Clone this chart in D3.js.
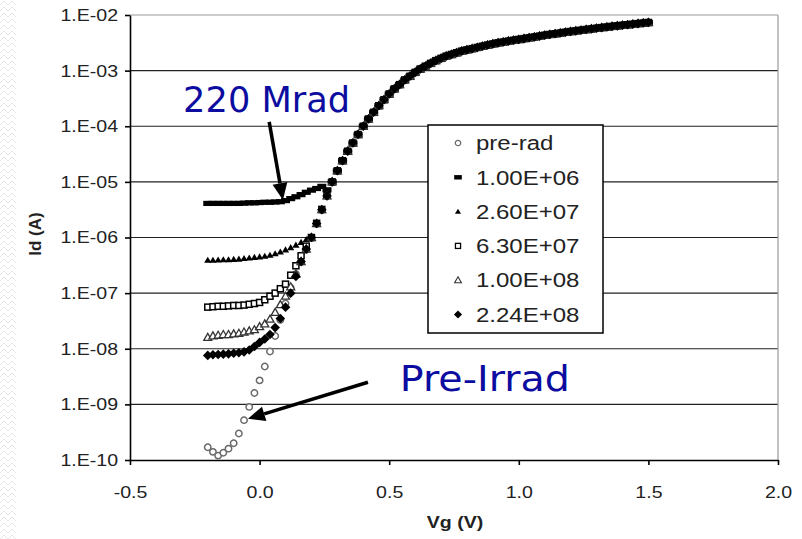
<!DOCTYPE html>
<html>
<head>
<meta charset="utf-8">
<script src="https://cdn.jsdelivr.net/npm/d3@7"></script>
<style>
  body { margin: 0; background: #fff; }
  svg { display: block; }
</style>
</head>
<body>
<div id="chart"></div>
<script>
// Vg steps (V) for the low part, where the series differ
const vgLow = [-0.20, -0.18, -0.16, -0.14, -0.12, -0.10, -0.08, -0.06, -0.04, -0.02,
  0.00, 0.02, 0.04, 0.06, 0.08, 0.10, 0.12, 0.14, 0.16, 0.18, 0.20, 0.22, 0.24, 0.26, 0.28];

// Vg steps for the upper part, where every series sits on the same curve
const vgHigh = [0.30, 0.32, 0.34, 0.36, 0.38, 0.40, 0.42, 0.44, 0.46, 0.48,
  0.50, 0.52, 0.54, 0.56, 0.58, 0.60, 0.62, 0.64, 0.66, 0.68,
  0.70, 0.72, 0.74, 0.76, 0.78, 0.80, 0.82, 0.84, 0.86, 0.88,
  0.90, 0.92, 0.94, 0.96, 0.98, 1.00, 1.02, 1.04, 1.06, 1.08,
  1.10, 1.12, 1.14, 1.16, 1.18, 1.20, 1.22, 1.24, 1.26, 1.28,
  1.30, 1.32, 1.34, 1.36, 1.38, 1.40, 1.42, 1.44, 1.46, 1.48, 1.50];

const idHigh = [1.58e-5, 2.4e-5, 3.55e-5, 5.0e-5, 7.1e-5, 1.0e-4, 1.35e-4, 1.78e-4, 2.34e-4, 3.0e-4,
  3.8e-4, 4.7e-4, 5.6e-4, 6.8e-4, 7.9e-4, 9.3e-4, 1.07e-3, 1.2e-3, 1.35e-3, 1.51e-3,
  1.66e-3, 1.82e-3, 1.95e-3, 2.09e-3, 2.24e-3, 2.36e-3, 2.48e-3, 2.61e-3, 2.74e-3, 2.88e-3,
  3.02e-3, 3.16e-3, 3.27e-3, 3.39e-3, 3.51e-3, 3.63e-3, 3.76e-3, 3.89e-3, 4.03e-3, 4.17e-3,
  4.32e-3, 4.47e-3, 4.6e-3, 4.74e-3, 4.89e-3, 5.04e-3, 5.18e-3, 5.32e-3, 5.47e-3, 5.62e-3,
  5.78e-3, 5.93e-3, 6.08e-3, 6.24e-3, 6.38e-3, 6.53e-3, 6.68e-3, 6.84e-3, 7.0e-3, 7.16e-3, 7.33e-3];

// Id (A) over vgLow for each dose
const preRad = [1.7e-10, 1.4e-10, 1.2e-10, 1.35e-10, 1.6e-10, 2.0e-10, 3.0e-10, 5.2e-10, 9.0e-10, 1.6e-9,
  2.7e-9, 4.8e-9, 8.9e-9, 1.7e-8, 3.3e-8, 6.5e-8, 1.25e-7, 2.2e-7, 3.6e-7, 6.0e-7, 9.8e-7, 1.75e-6, 3.1e-6, 5.5e-6, 9.8e-6];
const dose1e6 = [4.1e-6, 4.1e-6, 4.1e-6, 4.1e-6, 4.1e-6, 4.1e-6, 4.1e-6, 4.15e-6, 4.2e-6, 4.2e-6,
  4.25e-6, 4.3e-6, 4.3e-6, 4.35e-6, 4.4e-6, 4.6e-6, 5.0e-6, 5.4e-6, 5.9e-6, 6.5e-6, 7.1e-6, 7.6e-6, 8.3e-6, 7.2e-6, 1.0e-5];
const dose26e6 = [3.9e-7, 3.9e-7, 3.95e-7, 4.0e-7, 4.0e-7, 4.05e-7, 4.1e-7, 4.2e-7, 4.3e-7, 4.4e-7,
  4.5e-7, 4.6e-7, 4.8e-7, 5.1e-7, 5.5e-7, 6.0e-7, 6.6e-7, 7.3e-7, 8.2e-7, 9.2e-7, 1.05e-6, 1.8e-6, 3.2e-6, 5.6e-6, 1.0e-5];
const dose63e6 = [5.6e-8, 5.7e-8, 5.8e-8, 5.8e-8, 5.9e-8, 6.0e-8, 6.0e-8, 6.1e-8, 6.3e-8, 6.5e-8,
  6.8e-8, 7.6e-8, 8.8e-8, 1.0e-7, 1.2e-7, 1.45e-7, 2.1e-7, 3.1e-7, 4.7e-7, 7.0e-7, 1.0e-6, 1.8e-6, 3.2e-6, 5.7e-6, 1.0e-5];
const dose1e8 = [1.6e-8, 1.7e-8, 1.75e-8, 1.8e-8, 1.8e-8, 1.85e-8, 1.9e-8, 2.0e-8, 2.1e-8, 2.2e-8,
  2.5e-8, 2.8e-8, 3.4e-8, 4.5e-8, 6.2e-8, 8.8e-8, 1.3e-7, 2.2e-7, 3.7e-7, 6.2e-7, 1.0e-6, 1.78e-6, 3.16e-6, 5.6e-6, 1.0e-5];
const dose224e6 = [7.6e-9, 7.8e-9, 7.9e-9, 8.0e-9, 8.1e-9, 8.3e-9, 8.5e-9, 8.8e-9, 9.5e-9, 1.1e-8,
  1.3e-8, 1.5e-8, 1.8e-8, 2.4e-8, 3.5e-8, 5.6e-8, 1.0e-7, 2.0e-7, 3.7e-7, 6.2e-7, 1.0e-6, 1.78e-6, 3.16e-6, 5.6e-6, 1.0e-5];

const seriesNames = ["pre-rad", "1.00E+06", "2.60E+07", "6.30E+07", "1.00E+08", "2.24E+08"];
const seriesLow = [preRad, dose1e6, dose26e6, dose63e6, dose1e8, dose224e6];

const xTicks = [-0.5, 0, 0.5, 1, 1.5, 2];
const xTickLabels = ["-0.5", "0.0", "0.5", "1.0", "1.5", "2.0"];
const yTicks = [1e-10, 1e-9, 1e-8, 1e-7, 1e-6, 1e-5, 1e-4, 1e-3, 1e-2];
const yTickLabels = ["1.E-10", "1.E-09", "1.E-08", "1.E-07", "1.E-06", "1.E-05", "1.E-04", "1.E-03", "1.E-02"];

// Annotations, in data units
const notes = [
  { text: "220 Mrad", vg: -0.295, id: 1.8e-4, len: 167, from: [0.037, 1.2e-4], to: [0.09, 4.7e-6] },
  { text: "Pre-Irrad", vg: 0.541, id: 1.75e-9, len: 170, from: [0.418, 2.5e-9], to: [-0.045, 5.5e-10] }
];

const width = 802;
const height = 539;
const plotLeft = 130, plotRight = 778, plotTop = 15, plotBottom = 460;

const svg = d3.select("#chart").append("svg")
  .attr("width", width)
  .attr("height", height);

// faint zigzag strip on the left edge
const pat = svg.append("defs").append("pattern")
  .attr("id", "zig").attr("width", 8).attr("height", 6)
  .attr("patternUnits", "userSpaceOnUse");
pat.append("path").attr("d", "M0,5 L4,1 L8,5")
  .attr("fill", "none").attr("stroke", "#e6e6e6").attr("stroke-width", 1);
svg.append("rect").attr("x", 0).attr("y", 0).attr("width", 16).attr("height", height)
  .attr("fill", "url(#zig)");

const x = d3.scaleLinear().domain([-0.5, 2]).range([plotLeft, plotRight]);
const y = d3.scaleLog().domain([1e-10, 1e-2]).range([plotBottom, plotTop]);

// stretch text horizontally, the source picture is a bit wide
function stretch(sel, k) {
  sel.each(function () {
    const w = this.getComputedTextLength();
    d3.select(this).attr("textLength", w * k).attr("lengthAdjust", "spacingAndGlyphs");
  });
}

// grid lines
svg.append("g")
  .selectAll("line")
  .data(yTicks.slice(1))
  .join("line")
  .attr("x1", plotLeft).attr("x2", plotRight)
  .attr("y1", d => y(d)).attr("y2", d => y(d))
  .attr("stroke", d => d === 1e-2 ? "#999" : "#222")
  .attr("stroke-width", 1.2);

svg.append("line")
  .attr("x1", plotRight).attr("x2", plotRight).attr("y1", plotTop).attr("y2", plotBottom)
  .attr("stroke", "#999").attr("stroke-width", 1.2);

// axes
svg.append("g")
  .attr("transform", `translate(${plotLeft},0)`)
  .call(d3.axisLeft(y).tickValues(yTicks).tickFormat((d, i) => yTickLabels[i])
    .tickSize(5).tickSizeOuter(0).tickPadding(7));

svg.append("g")
  .attr("transform", `translate(0,${plotBottom})`)
  .call(d3.axisBottom(x).tickValues(xTicks).tickFormat((d, i) => xTickLabels[i])
    .tickSize(5).tickSizeOuter(0).tickPadding(21));

svg.selectAll(".domain, .tick line").attr("stroke", "#000").attr("stroke-width", 1.6);
svg.selectAll(".tick text")
  .attr("font-family", "'Liberation Sans', Arial, sans-serif")
  .attr("font-size", 17)
  .attr("fill", "#222");
stretch(svg.selectAll(".tick text"), 1.15);

// axis titles
svg.append("text")
  .attr("x", 455).attr("y", 528)
  .attr("text-anchor", "middle")
  .attr("font-family", "'Liberation Sans', Arial, sans-serif")
  .attr("font-weight", "bold").attr("font-size", 17).attr("fill", "#222")
  .text("Vg (V)")
  .call(stretch, 1.15);

svg.append("text")
  .attr("transform", "translate(41,234) rotate(-90)")
  .attr("text-anchor", "middle")
  .attr("font-family", "'Liberation Sans', Arial, sans-serif")
  .attr("font-weight", "bold").attr("font-size", 17).attr("fill", "#222")
  .text("Id (A)");

// markers, one per series
const markers = [
  g => g.append("circle").attr("r", 3.2).attr("fill", "#fff").attr("stroke", "#6a6a6a").attr("stroke-width", 1.5),
  g => g.append("rect").attr("x", -4.5).attr("y", -2.6).attr("width", 9).attr("height", 5.2).attr("fill", "#000"),
  g => g.append("path").attr("d", "M0,-3.5L3.6,2.6L-3.6,2.6Z").attr("fill", "#000"),
  g => g.append("rect").attr("x", -3).attr("y", -3).attr("width", 6).attr("height", 6)
        .attr("fill", "#fff").attr("stroke", "#000").attr("stroke-width", 1.5),
  g => g.append("path").attr("d", "M0,-4L4,3L-4,3Z").attr("fill", "#fff").attr("stroke", "#333").attr("stroke-width", 1.3),
  g => g.append("path").attr("d", "M0,-4.8L4.8,0L0,4.8L-4.8,0Z").attr("fill", "#000")
];

const series = seriesNames.map((name, k) => ({
  name,
  points: vgLow.map((v, i) => ({ vg: v, id: seriesLow[k][i] }))
    .concat(vgHigh.map((v, i) => ({ vg: v, id: idHigh[i] })))
}));

series.forEach((s, k) => {
  const g = svg.append("g");
  g.selectAll("g")
    .data(s.points)
    .join("g")
    .attr("transform", d => `translate(${x(d.vg)},${y(d.id)})`)
    .each(function () { markers[k](d3.select(this)); });
});

// legend
const legend = svg.append("g");
legend.append("rect")
  .attr("x", 428).attr("y", 125).attr("width", 175).attr("height", 208)
  .attr("fill", "#fff").attr("stroke", "#000").attr("stroke-width", 1.5);
seriesNames.forEach((name, k) => {
  const cy = 143 + k * 34.3;
  const m = legend.append("g").attr("transform", `translate(458,${cy}) scale(0.85)`);
  markers[k](m);
  legend.append("text")
    .attr("x", 476).attr("y", cy).attr("dy", "0.36em")
    .attr("font-family", "'Liberation Sans', Arial, sans-serif")
    .attr("font-size", 20).attr("fill", "#222")
    .text(name)
    .call(stretch, 1.2);
});

// annotations with arrows
notes.forEach(n => {
  svg.append("text")
    .attr("x", x(n.vg)).attr("y", y(n.id))
    .attr("font-family", "'DejaVu Sans', sans-serif")
    .attr("font-size", 35).attr("fill", "#0c0ca0")
    .attr("textLength", n.len).attr("lengthAdjust", "spacingAndGlyphs")
    .text(n.text);

  const x1 = x(n.from[0]), y1 = y(n.from[1]);
  const x2 = x(n.to[0]), y2 = y(n.to[1]);
  const a = Math.atan2(y2 - y1, x2 - x1);
  const hl = 17, hw = 7.5;
  const bx = x2 - hl * Math.cos(a), by = y2 - hl * Math.sin(a);
  svg.append("line")
    .attr("x1", x1).attr("y1", y1).attr("x2", bx).attr("y2", by)
    .attr("stroke", "#000").attr("stroke-width", 3.5);
  svg.append("path")
    .attr("d", `M${x2},${y2}L${bx + hw * Math.sin(a)},${by - hw * Math.cos(a)}L${bx - hw * Math.sin(a)},${by + hw * Math.cos(a)}Z`)
    .attr("fill", "#000");
});
</script>
</body>
</html>
